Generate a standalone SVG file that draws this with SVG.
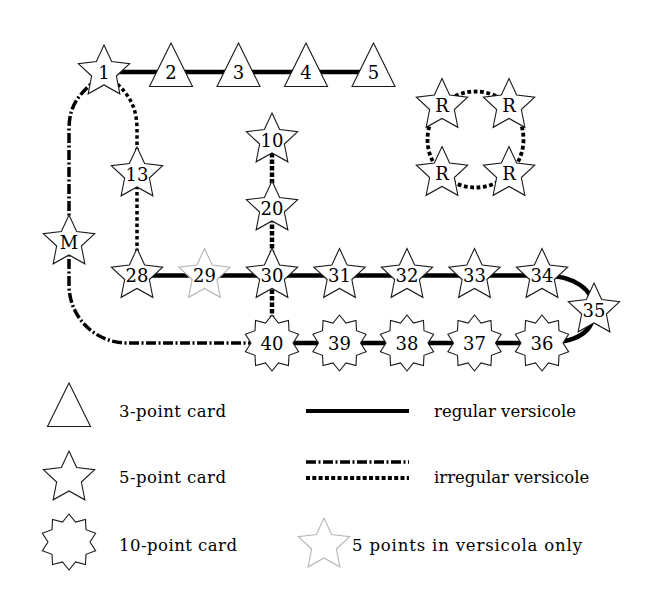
<svg xmlns="http://www.w3.org/2000/svg" xmlns:xlink="http://www.w3.org/1999/xlink" width="653" height="608" viewBox="0 0 653 608">
<style>
  .shape { fill: #fff; stroke: #1a1a1a; stroke-width: 1.1; stroke-linejoin: miter; }
  .ghost { fill: #fff; stroke: #b5b5b5; stroke-width: 1.1; }
  .lbl { font-family: "DejaVu Serif", "Liberation Serif", serif; font-size: 18px; text-anchor: middle; fill: #000; }
  .leg { font-family: "DejaVu Serif", "Liberation Serif", serif; font-size: 16.5px; fill: #000; }
  .reg { fill: none; stroke: #000; stroke-width: 4.5; }
  .dashdot { fill: none; stroke: #000; stroke-width: 3.5; stroke-dasharray: 10 2.5 2 2.5; }
  .dotted { fill: none; stroke: #000; stroke-width: 3.5; stroke-dasharray: 3.5 2.8; }
  .dottedthick { fill: none; stroke: #000; stroke-width: 4.5; stroke-dasharray: 4.5 2; }
</style>
<defs>
  <path id="star5" d="M0,-27 L7.64,-10.52 L25.68,-8.34 L12.36,4.02 L15.87,21.84 L0,13 L-15.87,21.84 L-12.36,4.02 L-25.68,-8.34 L-7.64,-10.52 Z"/>
  <path id="star10" d="M0,-28 L6.49,-19.97 L16.46,-22.65 L16.99,-12.34 L26.63,-8.65 L21,0 L26.63,8.65 L16.99,12.34 L16.46,22.65 L6.49,19.97 L0,28 L-6.49,19.97 L-16.46,22.65 L-16.99,12.34 L-26.63,8.65 L-21,0 L-26.63,-8.65 L-16.99,-12.34 L-16.46,-22.65 L-6.49,-19.97 Z"/>
  <path id="tri" d="M0,-29 L21.5,14.5 L-21.5,14.5 Z"/>
</defs>

<g id="connectors">
  <path class="reg" d="M104,72 L373.5,72"/>
  <path class="reg" d="M137,275.5 L543,275.5"/>
  <path class="reg" d="M543,275.5 C575,275.5 594,290 594,310"/>
  <path class="reg" d="M594,310 C594,330 580,343 543,343"/>
  <path class="reg" d="M272,343 L543,343"/>
  <path class="dashdot" d="M100,76 C78,95 69,105 69,130 L69,242"/>
  <path class="dashdot" d="M69,242 L69,285 C69,317 95,343 127,343 L272,343"/>
  <path class="dotted" d="M108,76 C128,92 137,105 137,130 L137,275.5"/>
  <path class="dottedthick" d="M272,140 L272,343"/>
  <circle class="dotted" cx="475.5" cy="139.5" r="48" style="stroke-width:3.8;stroke-dasharray:3.8 2.6"/>
</g>

<g id="n1"><use xlink:href="#star5" href="#star5" class="shape" x="104" y="72"/><text class="lbl" x="104" y="78.5">1</text></g>
<g id="n2"><use xlink:href="#tri" href="#tri" class="shape" x="171" y="72"/><text class="lbl" x="171" y="78.5">2</text></g>
<g id="n3"><use xlink:href="#tri" href="#tri" class="shape" x="238.5" y="72"/><text class="lbl" x="238.5" y="78.5">3</text></g>
<g id="n4"><use xlink:href="#tri" href="#tri" class="shape" x="306" y="72"/><text class="lbl" x="306" y="78.5">4</text></g>
<g id="n5"><use xlink:href="#tri" href="#tri" class="shape" x="373.5" y="72"/><text class="lbl" x="373.5" y="78.5">5</text></g>

<g id="n10"><use xlink:href="#star5" href="#star5" class="shape" x="272" y="140"/><text class="lbl" x="272" y="146.5">10</text></g>
<g id="n13"><use xlink:href="#star5" href="#star5" class="shape" x="137" y="174"/><text class="lbl" x="137" y="180.5">13</text></g>
<g id="n20"><use xlink:href="#star5" href="#star5" class="shape" x="272" y="208"/><text class="lbl" x="272" y="214.5">20</text></g>
<g id="nM"><use xlink:href="#star5" href="#star5" class="shape" x="69" y="242"/><text class="lbl" x="69" y="248.5">M</text></g>

<g id="nR1"><use xlink:href="#star5" href="#star5" class="shape" x="442" y="105.5"/><text class="lbl" x="442" y="112">R</text></g>
<g id="nR2"><use xlink:href="#star5" href="#star5" class="shape" x="509" y="105.5"/><text class="lbl" x="509" y="112">R</text></g>
<g id="nR3"><use xlink:href="#star5" href="#star5" class="shape" x="442" y="173.5"/><text class="lbl" x="442" y="180">R</text></g>
<g id="nR4"><use xlink:href="#star5" href="#star5" class="shape" x="509" y="173.5"/><text class="lbl" x="509" y="180">R</text></g>

<g id="n28"><use xlink:href="#star5" href="#star5" class="shape" x="137" y="275.5"/><text class="lbl" x="137" y="282">28</text></g>
<g id="n29"><use xlink:href="#star5" href="#star5" class="ghost" x="204.5" y="275.5"/><text class="lbl" x="204.5" y="282">29</text></g>
<g id="n30"><use xlink:href="#star5" href="#star5" class="shape" x="272" y="275.5"/><text class="lbl" x="272" y="282">30</text></g>
<g id="n31"><use xlink:href="#star5" href="#star5" class="shape" x="339.5" y="275.5"/><text class="lbl" x="339.5" y="282">31</text></g>
<g id="n32"><use xlink:href="#star5" href="#star5" class="shape" x="407" y="275.5"/><text class="lbl" x="407" y="282">32</text></g>
<g id="n33"><use xlink:href="#star5" href="#star5" class="shape" x="474.5" y="275.5"/><text class="lbl" x="474.5" y="282">33</text></g>
<g id="n34"><use xlink:href="#star5" href="#star5" class="shape" x="542" y="275.5"/><text class="lbl" x="542" y="282">34</text></g>
<g id="n35"><use xlink:href="#star5" href="#star5" class="shape" x="594" y="310"/><text class="lbl" x="594" y="316.5">35</text></g>

<g id="n36"><use xlink:href="#star10" href="#star10" class="shape" x="542" y="343"/><text class="lbl" x="542" y="349.5">36</text></g>
<g id="n37"><use xlink:href="#star10" href="#star10" class="shape" x="474.5" y="343"/><text class="lbl" x="474.5" y="349.5">37</text></g>
<g id="n38"><use xlink:href="#star10" href="#star10" class="shape" x="407" y="343"/><text class="lbl" x="407" y="349.5">38</text></g>
<g id="n39"><use xlink:href="#star10" href="#star10" class="shape" x="339.5" y="343"/><text class="lbl" x="339.5" y="349.5">39</text></g>
<g id="n40"><use xlink:href="#star10" href="#star10" class="shape" x="272" y="343"/><text class="lbl" x="272" y="349.5">40</text></g>

<g id="legend">
  <use xlink:href="#tri" href="#tri" class="shape" x="69" y="412"/>
  <text class="leg" x="119" y="416.5" textLength="107" lengthAdjust="spacing">3-point card</text>
  <use xlink:href="#star5" href="#star5" class="shape" x="69" y="478"/>
  <text class="leg" x="119" y="483" textLength="107" lengthAdjust="spacing">5-point card</text>
  <use xlink:href="#star10" href="#star10" class="shape" x="69" y="542"/>
  <text class="leg" x="119" y="551" textLength="118" lengthAdjust="spacing">10-point card</text>
  <path class="reg" style="stroke-width:4" d="M306,411 L409,411"/>
  <text class="leg" x="434" y="416.5">regular versicole</text>
  <path class="dashdot" d="M306,462 L409,462"/>
  <path class="dotted" style="stroke-width:4;stroke-dasharray:4 2.3" d="M306,478 L409,478"/>
  <text class="leg" x="434" y="483">irregular versicole</text>
  <use xlink:href="#star5" href="#star5" class="ghost" x="324" y="545"/>
  <text class="leg" x="352" y="551" textLength="230" lengthAdjust="spacing">5 points in versicola only</text>
</g>
</svg>
